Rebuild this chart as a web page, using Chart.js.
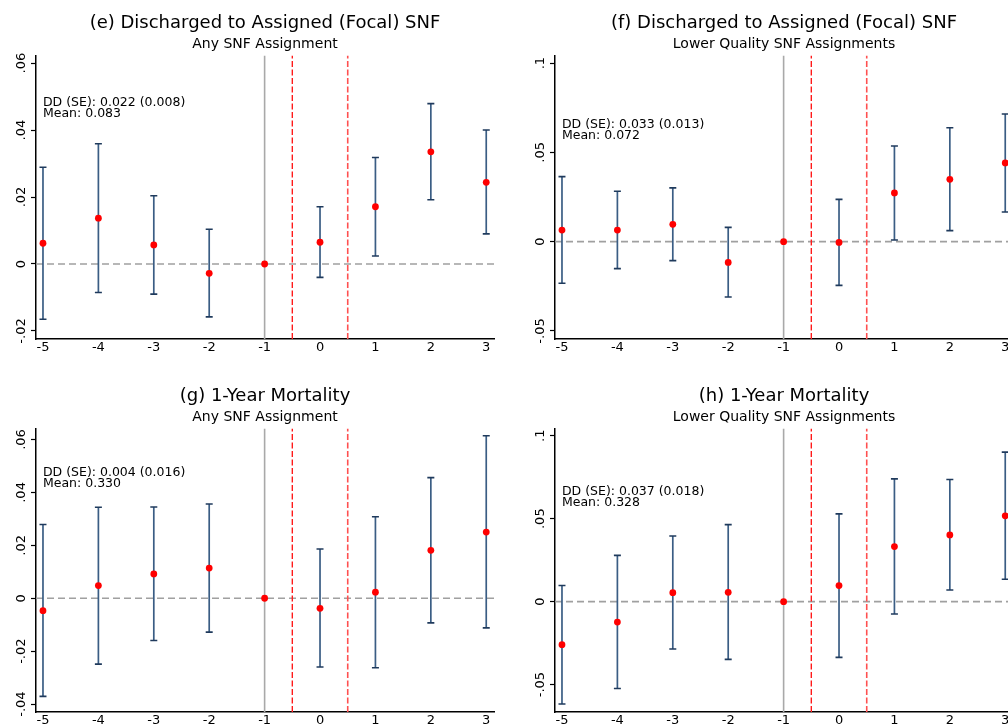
<!DOCTYPE html>
<html>
<head>
<meta charset="utf-8">
<script src="https://cdn.jsdelivr.net/npm/chart.js@4"></script>
<style>
  html, body { margin: 0; padding: 0; overflow: hidden; background: #fff; }
  body { width: 1008px; height: 724px; position: relative; }
  canvas { position: absolute; }
</style>
</head>
<body>
<canvas id="panel_e" width="504" height="362" style="left:0px;top:0px"></canvas>
<canvas id="panel_f" width="504" height="362" style="left:519px;top:0px"></canvas>
<canvas id="panel_g" width="504" height="362" style="left:0px;top:373px"></canvas>
<canvas id="panel_h" width="504" height="362" style="left:519px;top:373px"></canvas>
<script>
// event time (years relative to reassignment)
const periods = [-5, -4, -3, -2, -1, 0, 1, 2, 3];
const xRange = [-5.126, 3.14];

// (e) Discharged to assigned SNF, any assignment
const eCoef = [0.0062, 0.0137, 0.0057, -0.0028, 0, 0.0065, 0.0171, 0.0335, 0.0244];
const eHi   = [0.0289, 0.0359, 0.0204, 0.0104, null, 0.0171, 0.0318, 0.0479, 0.0400];
const eLo   = [-0.0165, -0.0085, -0.0090, -0.0158, null, -0.0040, 0.0024, 0.0192, 0.0090];
const eRange = [-0.0224, 0.0623];
const eTicks = [-0.02, 0, 0.02, 0.04, 0.06];
const eTickLabels = ['-.02', '0', '.02', '.04', '.06'];
const eNote = ['DD (SE): 0.022 (0.008)', 'Mean: 0.083'];

// (f) Discharged to assigned SNF, lower quality
const fCoef = [0.0065, 0.0065, 0.0097, -0.0116, 0, -0.0004, 0.0273, 0.0349, 0.0441];
const fHi   = [0.0364, 0.0282, 0.0301, 0.0080, null, 0.0237, 0.0536, 0.0638, 0.0715];
const fLo   = [-0.0233, -0.0151, -0.0106, -0.0310, null, -0.0245, 0.0009, 0.0062, 0.0166];
const fRange = [-0.0545, 0.1043];
const fTicks = [-0.05, 0, 0.05, 0.1];
const fTickLabels = ['-.05', '0', '.05', '.1'];
const fNote = ['DD (SE): 0.033 (0.013)', 'Mean: 0.072'];

// (g) 1-year mortality, any assignment
const gCoef = [-0.0047, 0.0048, 0.0092, 0.0114, 0, -0.0038, 0.0023, 0.0181, 0.0250];
const gHi   = [0.0279, 0.0344, 0.0345, 0.0356, null, 0.0186, 0.0308, 0.0456, 0.0614];
const gLo   = [-0.0371, -0.0249, -0.0160, -0.0128, null, -0.0260, -0.0263, -0.0093, -0.0112];
const gRange = [-0.0430, 0.0642];
const gTicks = [-0.04, -0.02, 0, 0.02, 0.04, 0.06];
const gTickLabels = ['-.04', '-.02', '0', '.02', '.04', '.06'];
const gNote = ['DD (SE): 0.004 (0.016)', 'Mean: 0.330'];

// (h) 1-year mortality, lower quality
const hCoef = [-0.0259, -0.0123, 0.0054, 0.0056, 0, 0.0097, 0.0332, 0.0402, 0.0517];
const hHi   = [0.0097, 0.0279, 0.0396, 0.0464, null, 0.0529, 0.0740, 0.0736, 0.0901];
const hLo   = [-0.0617, -0.0523, -0.0285, -0.0348, null, -0.0336, -0.0074, 0.0070, 0.0135];
const hRange = [-0.0665, 0.1044];
const hTicks = [-0.05, 0, 0.05, 0.1];
const hTickLabels = ['-.05', '0', '.05', '.1'];
const hNote = ['DD (SE): 0.037 (0.018)', 'Mean: 0.328'];

Chart.defaults.font.family = '"DejaVu Sans", sans-serif';
Chart.defaults.color = '#000';

// two-line DD / mean note, anchored in data coords
const noteText = {
    id: 'noteText',
    afterDatasetsDraw(chart, args, opts) {
        const { ctx, scales: { x, y } } = chart;
        ctx.save();
        ctx.font = '12.5px "DejaVu Sans"';
        ctx.fillStyle = '#000';
        ctx.textBaseline = 'middle';
        opts.lines.forEach((line, i) => {
            ctx.fillText(line, x.getPixelForValue(opts.x), y.getPixelForValue(opts.y) + i * 11);
        });
        ctx.restore();
    }
};

function makePanel(canvasId, title, subtitle, coef, hi, lo, yRange, yTicks, yTickLabels, note, noteY) {
    // error bars as one broken line: lo, hi, gap
    const bars = [];
    periods.forEach((p, i) => {
        if (hi[i] === null) return;
        bars.push({ x: p, y: lo[i] }, { x: p, y: hi[i] }, { x: p, y: null });
    });
    const points = periods.map((p, i) => ({ x: p, y: coef[i] }));

    const ctx = document.getElementById(canvasId).getContext('2d');
    return new Chart(ctx, {
        type: 'line',
        data: {
            datasets: [
                {
                    label: 'coef',
                    data: points,
                    showLine: false,
                    pointRadius: 3.4,
                    pointBackgroundColor: '#ff0000',
                    pointBorderWidth: 0,
                },
                {
                    label: 'ci',
                    data: bars,
                    spanGaps: false,
                    borderColor: '#3a5d84',
                    borderWidth: 1.7,
                    pointStyle: 'line',
                    pointRadius: 3.5,
                    pointBorderColor: '#1f3a5c',
                    pointBorderWidth: 1.6,
                },
                {
                    label: 'pre',
                    data: [{ x: -0.5, y: yRange[0] }, { x: -0.5, y: yRange[1] }],
                    borderColor: '#ff1a1a',
                    borderWidth: 1.4,
                    borderDash: [6, 2.5],
                    pointRadius: 0,
                },
                {
                    label: 'post',
                    data: [{ x: 0.5, y: yRange[0] }, { x: 0.5, y: yRange[1] }],
                    borderColor: '#ff5050',
                    borderWidth: 1.6,
                    borderDash: [6, 2.5],
                    pointRadius: 0,
                },
                {
                    label: 'ref',
                    data: [{ x: -1, y: yRange[0] }, { x: -1, y: yRange[1] }],
                    borderColor: '#a9a9a9',
                    borderWidth: 1.6,
                    pointRadius: 0,
                },
                {
                    label: 'zero',
                    data: [{ x: xRange[0], y: 0 }, { x: xRange[1], y: 0 }],
                    borderColor: '#a0a0a0',
                    borderWidth: 1.6,
                    borderDash: [7, 4],
                    pointRadius: 0,
                },
            ]
        },
        options: {
            responsive: false,
            animation: false,
            layout: { padding: { top: 13, right: 10, left: 0, bottom: 0 } },
            scales: {
                x: {
                    type: 'linear',
                    min: xRange[0],
                    max: xRange[1],
                    afterBuildTicks: s => { s.ticks = periods.map(v => ({ value: v })); },
                    afterFit: s => { s.height = 23; },
                    grid: { display: false, drawTicks: false },
                    border: { display: true, color: '#000', width: 1.5 },
                    ticks: { font: { size: 13 }, padding: 1, callback: v => String(v) },
                },
                y: {
                    type: 'linear',
                    min: yRange[0],
                    max: yRange[1],
                    afterBuildTicks: s => { s.ticks = yTicks.map(v => ({ value: v })); },
                    afterFit: s => { s.width = 36; },
                    grid: { drawOnChartArea: false, drawTicks: true, tickLength: 5, color: '#000', tickWidth: 1.2 },
                    border: { display: true, color: '#000', width: 1.5 },
                    ticks: {
                        font: { size: 13 },
                        minRotation: 90,
                        maxRotation: 90,
                        crossAlign: 'center',
                        padding: -3,
                        callback: (v, i) => yTickLabels[i],
                    },
                },
            },
            plugins: {
                legend: { display: false },
                tooltip: { enabled: false },
                title: {
                    display: true,
                    text: title,
                    fullSize: false,
                    font: { size: 18, weight: 'normal' },
                    padding: { top: 0, bottom: 0 },
                },
                subtitle: {
                    display: true,
                    text: subtitle,
                    fullSize: false,
                    font: { size: 14 },
                    padding: { top: 1, bottom: 3 },
                },
                noteText: { lines: note, x: -5, y: noteY },
            },
        },
        plugins: [noteText],
    });
}

makePanel('panel_e', '(e) Discharged to Assigned (Focal) SNF', 'Any SNF Assignment',
    eCoef, eHi, eLo, eRange, eTicks, eTickLabels, eNote, 0.0482);
makePanel('panel_f', '(f) Discharged to Assigned (Focal) SNF', 'Lower Quality SNF Assignments',
    fCoef, fHi, fLo, fRange, fTicks, fTickLabels, fNote, 0.0657);
makePanel('panel_g', '(g) 1-Year Mortality', 'Any SNF Assignment',
    gCoef, gHi, gLo, gRange, gTicks, gTickLabels, gNote, 0.0473);
makePanel('panel_h', '(h) 1-Year Mortality', 'Lower Quality SNF Assignments',
    hCoef, hHi, hLo, hRange, hTicks, hTickLabels, hNote, 0.0660);
</script>
</body>
</html>
